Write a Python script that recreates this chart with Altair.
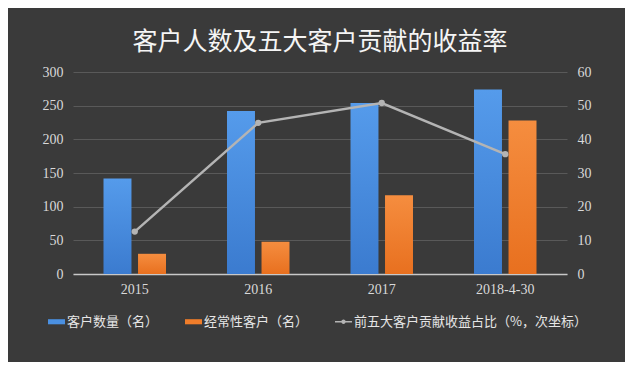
import altair as alt
import pandas as pd

years = ["2015", "2016", "2017", "2018-4-30"]
customers = [142, 242, 254, 274]
recurring = [30, 48, 117, 228]
top5_share = [12.6, 44.9, 50.8, 35.6]

s_cust = "客户数量（名）"
s_recur = "经常性客户（名）"
s_share = "前五大客户贡献收益占比（%，次坐标）"
series_labels = [s_cust, s_recur, s_share]
series_colors = ["#4a90e2", "#f07d2a", "#b4b4b4"]

title_text = "客户人数及五大客户贡献的收益率"

bars_df = pd.DataFrame(
    {
        "year": years * 2,
        "series": [s_cust] * len(years) + [s_recur] * len(years),
        "value": customers + recurring,
    }
)
line_df = pd.DataFrame({"year": years, "share": top5_share})
legend_df = pd.DataFrame({"series": series_labels})

num_font = "Liberation Serif"
cjk_font = "Noto Sans CJK SC"
label_color = "#d9d9d9"
grid_color = "#595959"

blue_grad = {
    "gradient": "linear", "x1": 0, "y1": 0, "x2": 0, "y2": 1,
    "stops": [{"offset": 0, "color": "#559beb"}, {"offset": 1, "color": "#3b7bcf"}],
}
orange_grad = {
    "gradient": "linear", "x1": 0, "y1": 0, "x2": 0, "y2": 1,
    "stops": [{"offset": 0, "color": "#f58d3f"}, {"offset": 1, "color": "#e8701f"}],
}

x_enc = alt.X(
    "year:N",
    sort=years,
    scale=alt.Scale(paddingInner=0.494, paddingOuter=0.247),
    axis=alt.Axis(
        title=None, labelAngle=0, ticks=False, domain=True,
        domainColor="#c8c8c8", domainWidth=1.5, labelPadding=8,
        labelFont=num_font, labelFontSize=14, labelColor=label_color,
    ),
)

bars = (
    alt.Chart(bars_df)
    .mark_bar()
    .encode(
        x=x_enc,
        xOffset=alt.XOffset(
            "series:N", sort=[s_cust, s_recur],
            scale=alt.Scale(domain=[s_cust, s_recur], paddingInner=0.19, paddingOuter=0),
        ),
        y=alt.Y(
            "value:Q",
            scale=alt.Scale(domain=[0, 300], nice=False),
            axis=alt.Axis(
                orient="left", values=[0, 50, 100, 150, 200, 250, 300], title=None,
                domain=False, ticks=False, labelPadding=10, grid=True,
                gridColor=grid_color, gridWidth=1,
                labelFont=num_font, labelFontSize=14, labelColor=label_color,
            ),
        ),
        fill=alt.condition(
            alt.datum.series == s_cust, alt.value(blue_grad), alt.value(orange_grad)
        ),
    )
)

line = (
    alt.Chart(line_df)
    .mark_line(
        color="#b4b4b4", strokeWidth=2.5,
        point=alt.OverlayMarkDef(filled=True, fill="#b4b4b4", size=40, opacity=1),
    )
    .encode(
        x=alt.X("year:N", sort=years),
        y=alt.Y(
            "share:Q",
            scale=alt.Scale(domain=[0, 60], nice=False),
            axis=alt.Axis(
                orient="right", values=[0, 10, 20, 30, 40, 50, 60], title=None,
                domain=False, ticks=False, labelPadding=10, grid=False,
                labelFont=num_font, labelFontSize=14, labelColor=label_color,
            ),
        ),
    )
)

rect_path = "M-1,-0.3H1V0.3H-1Z"
line_path = "M-1,-0.1H1V0.1H-1Z M0.26,0A0.26,0.26 0 1,1 -0.26,0A0.26,0.26 0 1,1 0.26,0Z"

legend_params = dict(
    orient="none", legendX=-25, legendY=241, direction="horizontal", title=None,
    labelFont=cjk_font, labelFontSize=13, labelColor="#e6e6e6", labelLimit=400,
    symbolSize=289, symbolStrokeWidth=0, symbolOpacity=1,
    columnPadding=26, labelOffset=2,
)

legend_carrier = (
    alt.Chart(legend_df)
    .mark_point(filled=True, opacity=0, size=0)
    .encode(
        color=alt.Color(
            "series:N", sort=series_labels,
            scale=alt.Scale(domain=series_labels, range=series_colors),
            legend=alt.Legend(**legend_params),
        ),
        shape=alt.Shape(
            "series:N", sort=series_labels,
            scale=alt.Scale(domain=series_labels, range=[rect_path, rect_path, line_path]),
            legend=alt.Legend(**legend_params),
        ),
    )
)

chart = (
    alt.layer(bars, line, legend_carrier)
    .resolve_scale(y="independent")
    .properties(
        width=494,
        height=202,
        title=alt.TitleParams(
            text=title_text, fontSize=25, color="#f5f5f5", font=cjk_font,
            fontWeight="normal", anchor="middle", offset=10,
        ),
        autosize=alt.AutoSizeParams(type="none"),
        padding={"left": 65, "top": 64, "right": 58, "bottom": 88},
        background="#3a3a3a",
    )
    .configure_view(stroke=None)
)

chart.save("out.html", embed_options={"renderer": "svg", "actions": False})
